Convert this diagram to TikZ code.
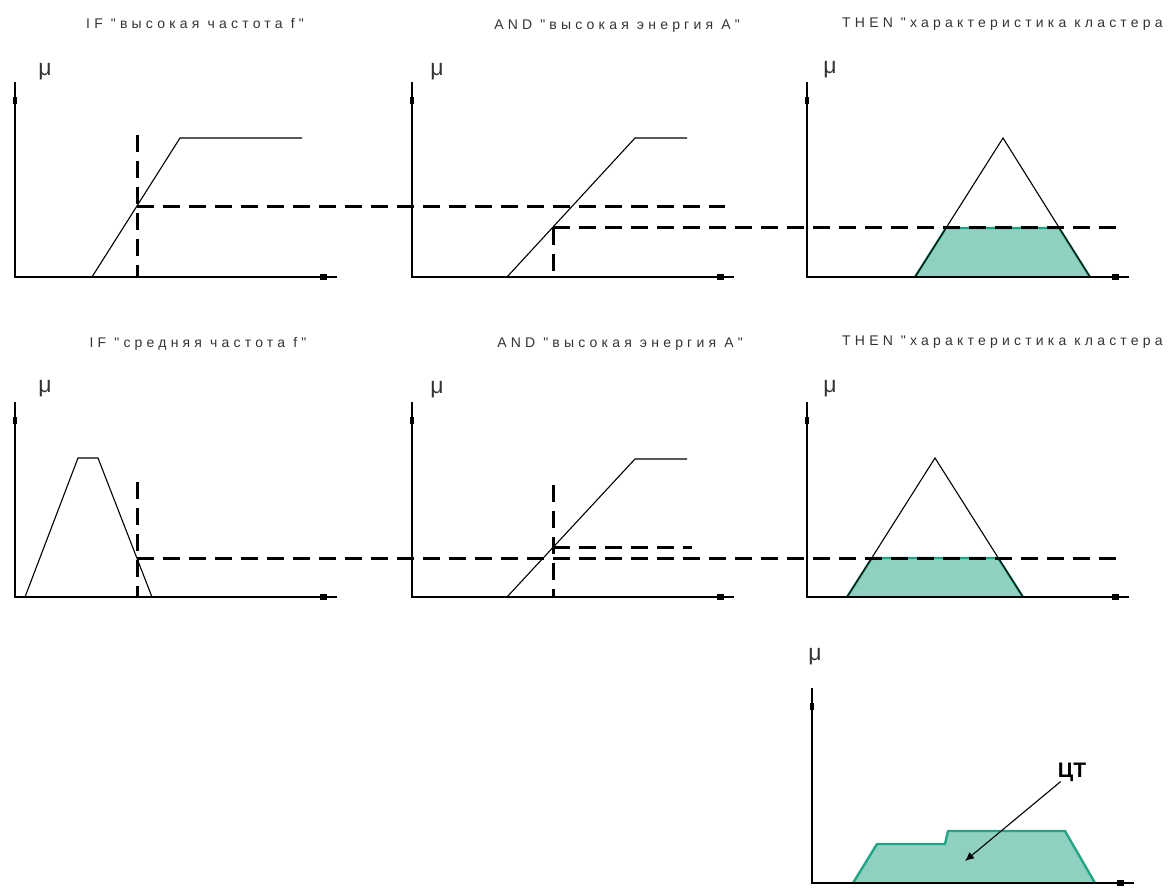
\documentclass[tikz,border=0pt]{standalone}
\usepackage{fontspec}
\setmainfont{Liberation Sans}
\newfontfamily\ttlfont{Liberation Sans}[LetterSpace=30]
\usetikzlibrary{arrows.meta}
\definecolor{tealfill}{RGB}{143,208,192}
\definecolor{tealedge}{RGB}{34,165,135}

\begin{document}
\begin{tikzpicture}[x=1pt, y=-1pt,
  axis/.style={line width=1.4pt},
  mf/.style={line width=1.1pt},
  cut/.style={line width=3pt, dash pattern=on 17pt off 9pt},
  area/.style={fill=tealfill, draw=tealedge, line width=2.4pt, line join=round},
  ttl/.style={font=\ttlfont\fontsize{14}{16}\selectfont, text=black!80, inner sep=0pt},
  mu/.style={font=\fontsize{23}{23}\selectfont, text=black!80, inner sep=0pt}
]
  \useasboundingbox (0,0) rectangle (1172,890);

  % rule titles
  \node[ttl] (if1) at (195,24) {IF "высокая частота f"};
  \node[ttl] (and1) at (617,26) {AND "высокая энергия A"};
  \node[ttl, anchor=west] (then1) at (842,24) {THEN "характеристика кластера};
  \node[ttl] (if2) at (198,344) {IF "средняя частота f"};
  \node[ttl] (and2) at (620,344) {AND "высокая энергия A"};
  \node[ttl, anchor=west] (then2) at (842,342) {THEN "характеристика кластера};

  % rule 1
  \path[area] (915,277) -- (946,228) -- (1059,228) -- (1090,277);
  \draw[mf] (92,277) -- (180,138) -- (302,138);
  \draw[mf] (507,277) -- (635,138) -- (687,138);
  \draw[mf] (915,277) -- (1003,138) -- (1090,277);
  \draw[cut] (137,135) -- (137,277);
  \draw[cut] (137,207) -- (725,207);
  \draw[cut] (553,228) -- (553,277);
  \draw[cut] (553,228) -- (1122,228);

  % rule 2
  \path[area] (847,597) -- (872,558) -- (998,558) -- (1023,597);
  \draw[mf] (25,597) -- (78,458) -- (98,458) -- (152,597);
  \draw[mf] (507,597) -- (635,459) -- (687,459);
  \draw[mf] (847,597) -- (935,458) -- (1023,597);
  \draw[cut] (137,482) -- (137,597);
  \draw[cut] (137,558) -- (1122,558);
  \draw[cut] (553,485) -- (553,597);
  \draw[cut] (553,547) -- (692,547);

  % result
  \path[area] (853,883) -- (877,844) -- (945,844) -- (948,831) -- (1065,831) -- (1095,883);
  \coordinate (cg) at (965,861);
  \node[font=\bfseries\fontsize{21}{21}\selectfont, inner sep=0pt] (ct) at (1072,772) {ЦТ};
  \draw[line width=1.1pt, -{Latex[length=9pt,width=8pt]}] ([xshift=3pt]ct.south west) -- (cg);

  % axes
  \foreach \ox/\oy/\mx/\my [count=\i] in {15/277/45/72, 412/277/437/72, 807/277/830/70,
      15/597/45/389, 412/597/437/390, 807/597/830/389, 812/883/815/657} {
    \draw[axis] (\ox,\oy-195) -- (\ox,\oy) -- (\ox+322,\oy);
    \fill (\ox-2,\oy-180) rectangle (\ox+2,\oy-173);
    \fill (\ox+305,\oy-3) rectangle (\ox+312,\oy+3);
    \node[mu] (mu\i) at (\mx,\my) {μ};
  }
\end{tikzpicture}
\end{document}
